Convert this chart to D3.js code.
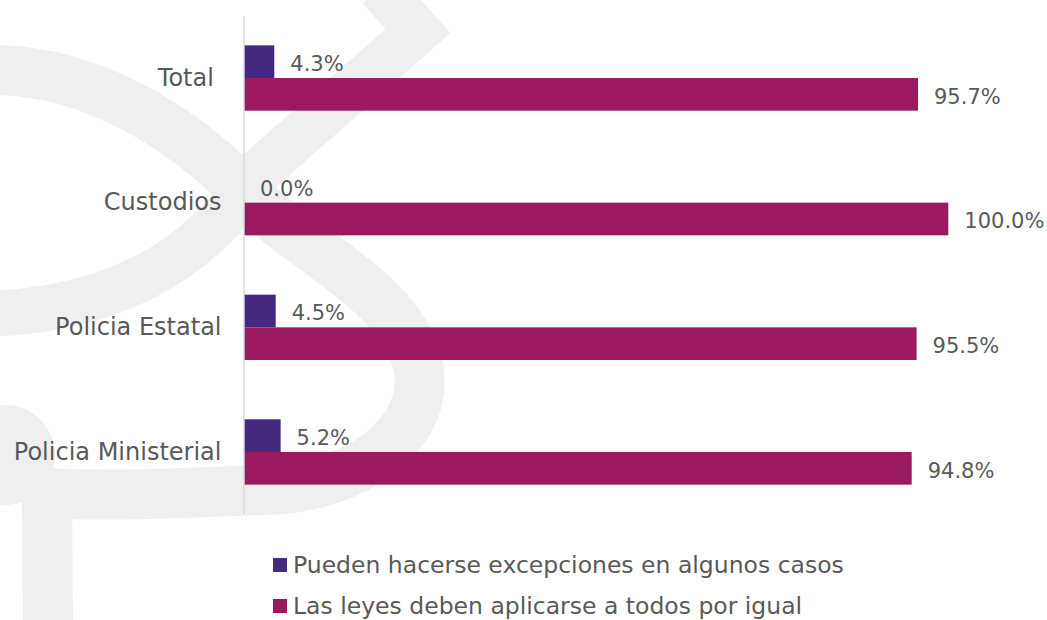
<!DOCTYPE html>
<html lang="es">
<head>
<meta charset="utf-8">
<script src="https://cdn.jsdelivr.net/npm/d3@7"></script>
<style>
  html, body { margin: 0; padding: 0; background: #ffffff; }
  svg { display: block; }
  text { font-family: "DejaVu Sans", "Noto Sans", sans-serif; fill: #595959; }
</style>
</head>
<body>
<svg id="chart" width="1047" height="620"></svg>
<script>
// Categories (top to bottom) and the two answer series, in percent
const categories = ["Total ", "Custodios", "Policia Estatal", "Policia Ministerial"];
const seriesNames = [
  "Pueden hacerse excepciones en algunos casos",
  "Las leyes deben aplicarse a todos por igual"
];
const excepciones = [4.3, 0.0, 4.5, 5.2];
const porIgual = [95.7, 100.0, 95.5, 94.8];
const seriesColors = ["#44297E", "#9B1A5F"];

const rows = categories.map((c, i) => ({ cat: c, values: [excepciones[i], porIgual[i]] }));

const svg = d3.select("#chart");

// Light grey emblem in the background
const mark = svg.append("g")
  .attr("fill", "none")
  .attr("stroke", "#efefef")
  .attr("stroke-width", 50)
  .attr("stroke-linejoin", "miter");
mark.append("path")
  .attr("d", "M -20,70 C 90,66 185,130 245,192 C 300,250 400,290 418,365 C 432,430 360,488 265,490 C 190,492 110,498 30,492");
mark.append("path")
  .attr("stroke-width", 46)
  .attr("d", "M -20,314 C 110,312 200,262 255,175 L 418,31 L 380,-12");
mark.append("path")
  .attr("d", "M 47,490 L 48,630");
svg.append("circle")
  .attr("cx", 5).attr("cy", 455).attr("r", 50)
  .attr("fill", "#efefef");

// Scales
const x = d3.scaleLinear().domain([0, 100]).range([244, 948.3]);
const y = d3.scaleBand().domain(categories).range([15.7, 514.3]).padding(0);
const ySub = d3.scaleBand().domain([0, 1]).range([0, y.bandwidth()])
  .paddingInner(0).paddingOuter(0.908);

// Bars
const groups = svg.append("g").selectAll("g")
  .data(rows)
  .join("g")
  .attr("transform", d => `translate(0,${y(d.cat)})`);

groups.selectAll("rect")
  .data(d => d.values.map((v, k) => ({ v, k })))
  .join("rect")
  .attr("x", x(0))
  .attr("y", d => ySub(d.k))
  .attr("width", d => x(d.v) - x(0))
  .attr("height", ySub.bandwidth())
  .attr("fill", d => seriesColors[d.k]);

// Value labels
const fmt = d3.format(".1f");
groups.selectAll("text.val")
  .data(d => d.values.map((v, k) => ({ v, k })))
  .join("text")
  .attr("class", "val")
  .attr("x", d => x(d.v) + 16)
  .attr("y", d => ySub(d.k) + ySub.bandwidth() / 2 + 9.3)
  .attr("font-size", 21)
  .text(d => fmt(d.v) + "%");

// Category axis
const axis = svg.append("g")
  .attr("transform", "translate(243.5,0)")
  .call(d3.axisLeft(y).tickSize(0).tickSizeOuter(0).tickPadding(22));
axis.select(".domain").attr("stroke", "#d9d9d9").attr("stroke-width", 1.5);
axis.selectAll(".tick text")
  .attr("font-size", 24)
  .attr("fill", "#595959")
  .attr("font-family", "DejaVu Sans, Noto Sans, sans-serif")
  .style("white-space", "pre");

// Legend
const legend = svg.append("g").selectAll("g")
  .data(seriesNames)
  .join("g")
  .attr("transform", (d, i) => `translate(273,${558 + i * 41})`);
legend.append("rect")
  .attr("width", 14).attr("height", 14)
  .attr("fill", (d, i) => seriesColors[i]);
legend.append("text")
  .attr("x", 20)
  .attr("y", 14.5)
  .attr("font-size", 23.5)
  .text(d => d);
</script>
</body>
</html>
